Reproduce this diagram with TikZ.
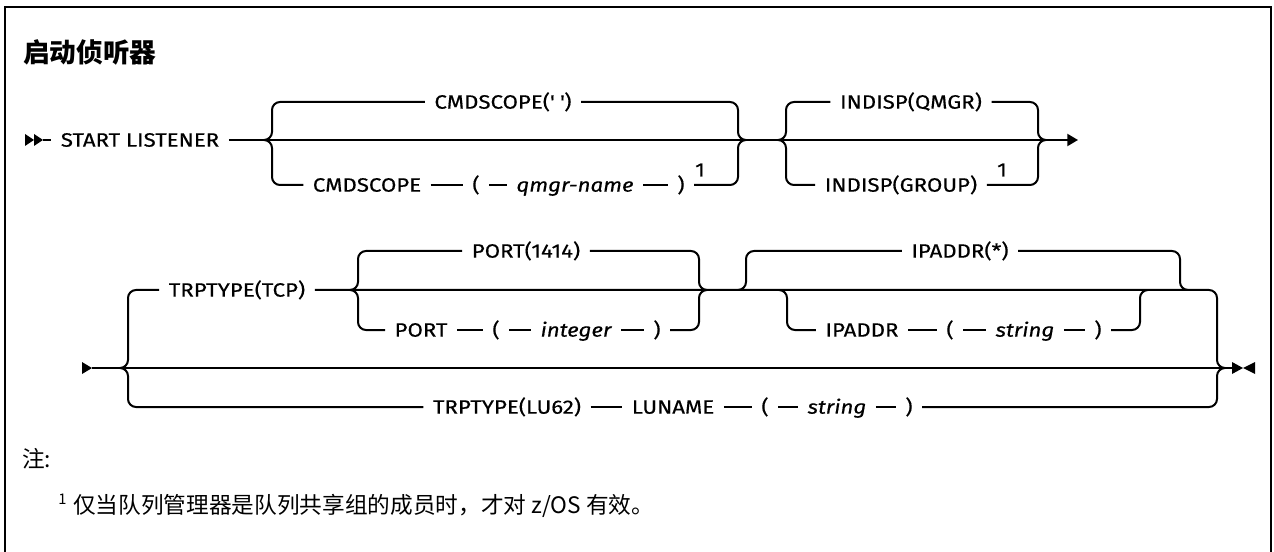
\documentclass[tikz,border=0pt]{standalone}
\usepackage{fontspec}
\setmainfont{Fira Sans}[FakeStretch=1.15,FakeBold=0.4]
\newfontfamily\cjk{Noto Sans CJK SC}
\usetikzlibrary{arrows.meta,positioning}
\newcommand\kwfont{\fontsize{14.5pt}{17pt}\selectfont}

\begin{document}
\begin{tikzpicture}[x=0.75pt,y=-0.75pt,
  rail/.style={line width=1.5pt,rounded corners=6pt},
  kw/.style={font=\kwfont,inner xsep=7pt,inner ysep=0pt,text height=10pt,text depth=0pt},
  var/.style={kw,font=\kwfont\itshape},
  fnmark/.style={font=\kwfont,inner sep=0pt}]
\useasboundingbox (0,0) rectangle (1274,552);
\draw[line width=2pt] (5,7) rectangle (1271,640);
\node[anchor=west,inner sep=0pt,font=\cjk\bfseries\fontsize{20pt}{24pt}\selectfont] (title) at (23,52) {启动侦听器};

% first line
\coordinate (go1) at (25,140);
\node[kw] (start) at (140,140) {START LISTENER};
\coordinate (csL) at (272,140);
\coordinate (csR) at (738,140);
\coordinate (inL) at (786,140);
\coordinate (inR) at (1038,140);
\coordinate (end1) at (1078,140);
\node[kw] (csdef) at (503,102) {CMDSCOPE(\textquotesingle\ \textquotesingle)};
\node[kw] (cskw) at (367,185) {CMDSCOPE};
\node[kw] (lp1) at (476,185) {(};
\node[var] (qmgr) at (575,185) {qmgr-name};
\node[kw] (rp1) at (681,185) {)};
\node[fnmark] (fn1) at (700,170) {1};
\node[kw] (indq) at (911,102) {INDISP(QMGR)};
\node[kw] (indg) at (901,185) {INDISP(GROUP)};
\node[fnmark] (fn2) at (1002,170) {1};

\fill (go1) ++(0,-6) -- ++(9,6) -- ++(-9,6) -- cycle;
\fill (go1) ++(9,-6) -- ++(9,6) -- ++(-9,6) -- cycle;
\draw[rail] (go1) ++(18,0) -- (start.west);
\draw[rail,-{Triangle[length=8pt,width=9pt]}] (start.east) -- (end1);
\draw[rail] ([xshift=-6pt]csL) -- (csL) |- (csdef.west);
\draw[rail] (csdef.east) -| (csR) -- ([xshift=6pt]csR);
\draw[rail] ([xshift=-6pt]csL) -- (csL) |- (cskw.west);
\draw[rail] (cskw) -- (lp1) -- (qmgr) -- (rp1);
\draw[rail] (rp1.east) -| (csR) -- ([xshift=6pt]csR);
\draw[rail] ([xshift=-6pt]inL) -- (inL) |- (indq.west);
\draw[rail] (indq.east) -| (inR) -- ([xshift=6pt]inR);
\draw[rail] ([xshift=-6pt]inL) -- (inL) |- (indg.west);
\draw[rail] (indg.east) -| (inR) -- ([xshift=6pt]inR);

% second line
\coordinate (go2) at (82,368);
\coordinate (trL) at (128,368);
\coordinate (trR) at (1217,368);
\coordinate (stop) at (1232,368);
\node[kw] (tcp) at (237,290) {TRPTYPE(TCP)};
\coordinate (poL) at (358,290);
\coordinate (poR) at (699,290);
\node[kw] (port) at (526,251) {PORT(1414)};
\node[kw] (portkw) at (421,330) {PORT};
\node[kw] (lp2) at (496,330) {(};
\node[var] (int) at (576,330) {integer};
\node[kw] (rp2) at (657,330) {)};
\coordinate (ipL) at (746,290);
\coordinate (ipR) at (1180,290);
\coordinate (iqL) at (787,290);
\coordinate (iqR) at (1140,290);
\node[kw] (ipdef) at (960,251) {IPADDR(*)};
\node[kw] (ipkw) at (862,330) {IPADDR};
\node[kw] (lp3) at (950,330) {(};
\node[var] (str1) at (1025,330) {string};
\node[kw] (rp3) at (1098,330) {)};
\node[kw] (lu62) at (507,407) {TRPTYPE(LU62)};
\node[kw] (luname) at (673,407) {LUNAME};
\node[kw] (lp4) at (765,407) {(};
\node[var] (str2) at (837,407) {string};
\node[kw] (rp4) at (909,407) {)};

\fill (go2) ++(0,-6) -- ++(10,6) -- ++(-10,6) -- cycle;
\draw[rail] (go2) ++(10,0) -- (stop);
\fill (stop) ++(0,-6) -- ++(11,6) -- ++(-11,6) -- cycle;
\fill (stop) ++(23,-6) -- ++(-12,6) -- ++(12,6) -- cycle;
\draw[rail] ([xshift=-6pt]trL) -- (trL) |- (tcp.west);
\draw[rail] (tcp.east) -| (trR) -- ([xshift=6pt]trR);
\draw[rail] ([xshift=-6pt]trL) -- (trL) |- (lu62.west);
\draw[rail] (lu62) -- (luname) -- (lp4) -- (str2) -- (rp4);
\draw[rail] (rp4.east) -| (trR) -- ([xshift=6pt]trR);
\draw[rail] ([xshift=-6pt]poL) -- (poL) |- (port.west);
\draw[rail] (port.east) -| (poR) -- ([xshift=6pt]poR);
\draw[rail] ([xshift=-6pt]poL) -- (poL) |- (portkw.west);
\draw[rail] (portkw) -- (lp2) -- (int) -- (rp2);
\draw[rail] (rp2.east) -| (poR) -- ([xshift=6pt]poR);
\draw[rail] ([xshift=-6pt]ipL) -- (ipL) |- (ipdef.west);
\draw[rail] (ipdef.east) -| (ipR) -- ([xshift=6pt]ipR);
\draw[rail] ([xshift=-6pt]iqL) -- (iqL) |- (ipkw.west);
\draw[rail] (ipkw) -- (lp3) -- (str1) -- (rp3);
\draw[rail] (rp3.east) -| (iqR) -- ([xshift=6pt]iqR);

% notes
\node[anchor=west,inner sep=0pt,font=\cjk\fontsize{17pt}{20pt}\selectfont] (note) at (22,459) {注:};
\node[anchor=west,inner sep=0pt,font=\cjk\fontsize{17pt}{20pt}\selectfont] (fntext) at (58,506) {\raisebox{0.4em}{\fontsize{11pt}{13pt}\selectfont 1}\hspace{5pt}仅当队列管理器是队列共享组的成员时，才对 z/OS 有效。};
\end{tikzpicture}
\end{document}
